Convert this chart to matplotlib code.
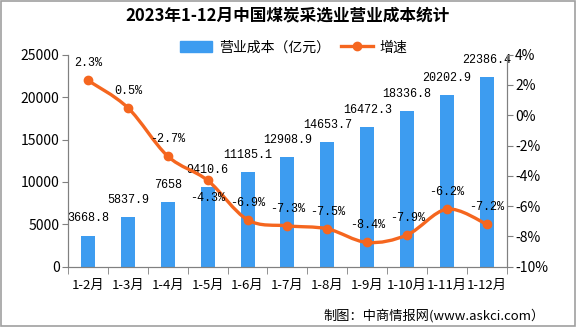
import numpy as np
import matplotlib
matplotlib.use('Agg')
import matplotlib.pyplot as plt
from matplotlib.path import Path
from matplotlib.patches import PathPatch, Rectangle
from matplotlib.lines import Line2D

plt.rcParams['font.family'] = ['Noto Sans CJK SC', 'DejaVu Sans']

# 数据
months = ['1-2月', '1-3月', '1-4月', '1-5月', '1-6月', '1-7月', '1-8月',
          '1-9月', '1-10月', '1-11月', '1-12月']
cost = [3668.8, 5837.9, 7658, 9410.6, 11185.1, 12908.9, 14653.7,
        16472.3, 18336.8, 20202.9, 22386.4]
growth = [2.3, 0.5, -2.7, -4.3, -6.9, -7.3, -7.5, -8.4, -7.9, -6.2, -7.2]
cost_labels = ['3668.8', '5837.9', '7658', '9410.6', '11185.1', '12908.9',
               '14653.7', '16472.3', '18336.8', '20202.9', '22386.4']

bar_color = '#3d9cf0'
line_color = '#f5661f'

fig = plt.figure(figsize=(5.76, 3.27), dpi=100)
ax = fig.add_axes([0.118, 0.1844, 0.762, 0.6483])
ax2 = ax.twinx()

x = np.arange(len(months))
ax.bar(x, cost, width=0.35, color=bar_color, zorder=2)
ax.set_xlim(-0.5, len(months) - 0.5)
ax.set_ylim(0, 25000)
ax.set_yticks(range(0, 25001, 5000))

for xi, v, s in zip(x, cost, cost_labels):
    ax.annotate(s, (xi, v), xytext=(0, 8), textcoords='offset points',
                ha='center', va='bottom', fontsize=8.5,
                family='Liberation Mono', zorder=5)

# 平滑曲线 (Catmull-Rom -> Bezier)
ax2.set_ylim(-10, 4)
ax2.set_yticks(range(-10, 5, 2))
ax2.set_yticklabels([f'{t}%' for t in range(-10, 5, 2)])
pts = np.column_stack([x, growth]).astype(float)
verts = [tuple(pts[0])]
codes = [Path.MOVETO]
n = len(pts)
for i in range(n - 1):
    p0 = pts[max(i - 1, 0)]
    p1 = pts[i]
    p2 = pts[i + 1]
    p3 = pts[min(i + 2, n - 1)]
    c1 = p1 + (p2 - p0) / 6.0
    c2 = p2 - (p3 - p1) / 6.0
    verts += [tuple(c1), tuple(c2), tuple(p2)]
    codes += [Path.CURVE4] * 3
ax2.add_patch(PathPatch(Path(verts, codes), facecolor='none',
                        edgecolor=line_color, lw=2.4, zorder=3))
ax2.plot(x, growth, 'o', color=line_color, ms=6, zorder=4)

for xi, g in zip(x, growth):
    if g == -4.3:
        off, va = -8, 'top'
    else:
        off, va = 8, 'bottom'
    ax2.annotate(f'{g}%', (xi, g), xytext=(0, off), textcoords='offset points',
                 ha='center', va=va, fontsize=8.5, family='Liberation Mono',
                 zorder=5)

# 坐标轴样式
for a in (ax, ax2):
    a.spines['top'].set_visible(False)
    for sp in ('left', 'right', 'bottom'):
        a.spines[sp].set_color('#808080')
    a.tick_params(axis='y', length=4, color='#808080', labelsize=10, pad=2)
ax.set_xticks(x)
ax.set_xticklabels(months, fontsize=9.5)
ax.set_xticks(np.arange(-0.5, len(months), 1), minor=True)
ax.tick_params(axis='x', which='major', length=0, pad=9)
ax.tick_params(axis='x', which='minor', length=5, color='#808080')

# 图例
handles = [Rectangle((0, 0), 1, 1, color=bar_color),
           Line2D([], [], color=line_color, lw=2.4, marker='o', ms=6)]
fig.legend(handles, ['营业成本（亿元）', '增速'], loc='center',
           bbox_to_anchor=(0.51, 0.855), ncol=2, frameon=False,
           fontsize=10, handlelength=2.3, handleheight=0.9, columnspacing=0.8,
           handletextpad=0.5)

fig.text(0.5, 0.952, '2023年1-12月中国煤炭采选业营业成本统计', ha='center',
         va='center', fontsize=12, fontweight='bold')
fig.text(0.945, 0.035, '制图：中商情报网(www.askci.com）', ha='right',
         va='center', fontsize=9.5)

fig.add_artist(Rectangle((0.001, 0.002), 0.997, 0.995, transform=fig.transFigure,
                         fill=False, edgecolor='#a0a0a0', lw=1.2))

fig.savefig('out.png', dpi=100)
